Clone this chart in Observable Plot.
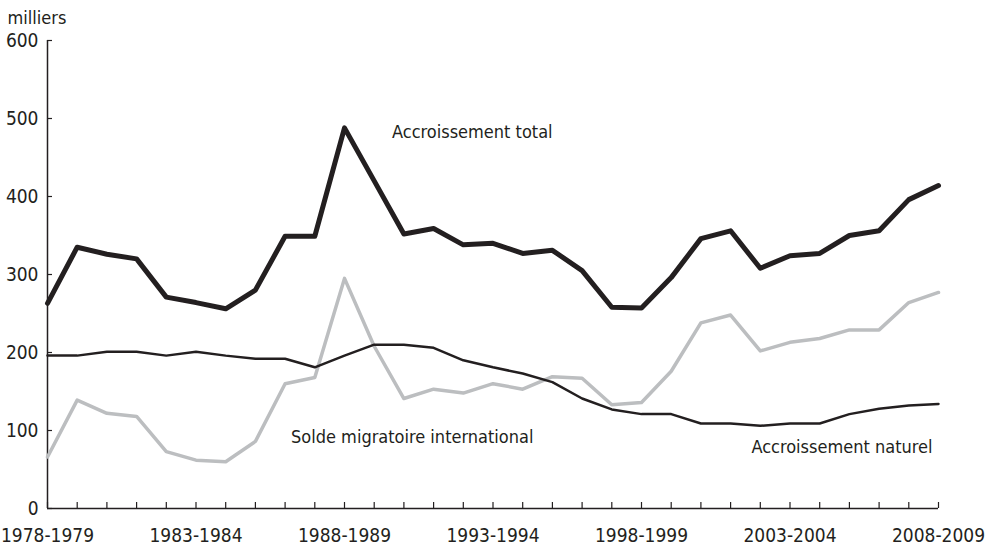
<!DOCTYPE html>
<html>
<head>
<meta charset="utf-8">
<script src="https://cdn.jsdelivr.net/npm/d3@7"></script>
<script src="https://cdn.jsdelivr.net/npm/@observablehq/plot@0.6"></script>
<style>
  html, body { margin: 0; padding: 0; background: #fff; }
  #chart svg { font-family: "DejaVu Sans Condensed", "DejaVu Sans", sans-serif; font-stretch: condensed; }
</style>
</head>
<body>
<div id="chart"></div>
<script>
const periods = [
  "1978-1979","1979-1980","1980-1981","1981-1982","1982-1983","1983-1984","1984-1985","1985-1986",
  "1986-1987","1987-1988","1988-1989","1989-1990","1990-1991","1991-1992","1992-1993","1993-1994",
  "1994-1995","1995-1996","1996-1997","1997-1998","1998-1999","1999-2000","2000-2001","2001-2002",
  "2002-2003","2003-2004","2004-2005","2005-2006","2006-2007","2007-2008","2008-2009"
];
const tickLabels = ["1978-1979","1983-1984","1988-1989","1993-1994","1998-1999","2003-2004","2008-2009"];
const yTicks = [0, 100, 200, 300, 400, 500, 600];
const unitLabel = "milliers";

const accroissementTotal = [263,335,326,320,271,264,256,280,349,349,488,420,352,359,338,340,327,331,305,258,257,296,346,356,308,324,327,350,356,396,414];
const accroissementNaturel = [196,196,201,201,196,201,196,192,192,181,196,210,210,206,190,181,173,162,141,127,121,121,109,109,106,109,109,121,128,132,134];
const soldeMigratoire = [66,139,122,118,73,62,60,86,160,168,295,208,141,153,148,160,153,169,167,133,136,176,238,248,202,213,218,229,229,264,277];

const seriesNames = ["Accroissement total", "Accroissement naturel", "Solde migratoire international"];
// label anchor positions (start year, value)
const labelYears = [1989.6, 2001.7, 1986.2];
const labelValues = [483, 78, 92];

const startYear = p => +p.slice(0, 4);
const rows = (vals, name) => vals.map((v, i) => ({year: startYear(periods[i]), value: v, series: name}));
const total = rows(accroissementTotal, seriesNames[0]);
const naturel = rows(accroissementNaturel, seriesNames[1]);
const migr = rows(soldeMigratoire, seriesNames[2]);
const labels = seriesNames.map((s, i) => ({text: s, year: labelYears[i], value: labelValues[i]}));

const ink = "#231f20";
const grey = "#bcbec0";
const labelSet = new Set(tickLabels.map(startYear));

const chart = Plot.plot({
  width: 995,
  height: 545,
  marginLeft: 47,
  marginRight: 57,
  marginTop: 40,
  marginBottom: 37,
  style: {fontSize: "19px", color: ink, background: "#fff", overflow: "visible"},
  x: {type: "linear", domain: [startYear(periods[0]), startYear(periods[periods.length - 1])]},
  y: {domain: [0, 600]},
  marks: [
    Plot.axisX({
      ticks: periods.map(startYear),
      tickSize: -6,
      tickPadding: 26,
      tickFormat: d => labelSet.has(d) ? periods.find(p => startYear(p) === d) : "",
      label: null,
      stroke: ink,
      strokeWidth: 1.2,
      fill: ink
    }),
    Plot.axisY({
      ticks: yTicks,
      tickSize: -5,
      tickPadding: 14,
      label: null,
      stroke: ink,
      strokeWidth: 1.2,
      fill: ink
    }),
    Plot.text([unitLabel], {frameAnchor: "top-left", text: d => d, textAnchor: "start", lineAnchor: "middle", dx: -40, dy: -22, fill: ink, fontSize: 18}),
    Plot.ruleX([startYear(periods[0])], {stroke: ink, strokeWidth: 1.5}),
    Plot.ruleY([0], {stroke: ink, strokeWidth: 1.5}),
    Plot.line(migr, {x: "year", y: "value", stroke: grey, strokeWidth: 3.5}),
    Plot.line(naturel, {x: "year", y: "value", stroke: ink, strokeWidth: 2.5}),
    Plot.line(total, {x: "year", y: "value", stroke: ink, strokeWidth: 5, strokeLinecap: "round"}),
    Plot.text(labels, {x: "year", y: "value", text: "text", textAnchor: "start", fill: ink, fontSize: 18})
  ]
});
document.getElementById("chart").appendChild(chart);
</script>
</body>
</html>
